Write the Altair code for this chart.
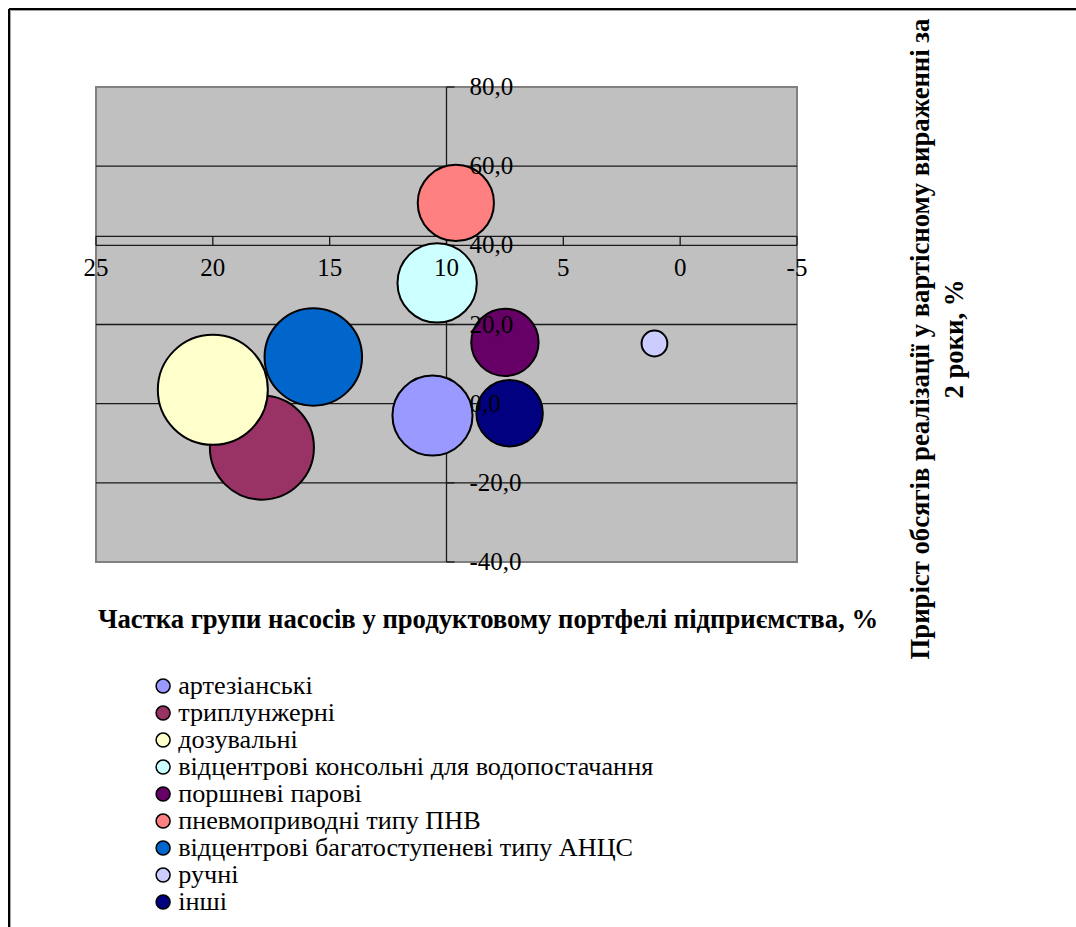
import altair as alt
import pandas as pd

# Pump groups: share in the product portfolio (%) vs. two-year sales growth (%)
names = [
    "артезіанські",
    "триплунжерні",
    "дозувальні",
    "відцентрові консольні для водопостачання",
    "поршневі парові",
    "пневмоприводні типу ПНВ",
    "відцентрові багатоступеневі типу АНЦС",
    "ручні",
    "інші",
]
share = [10.6, 17.9, 20.0, 10.4, 7.5, 9.6, 15.7, 1.1, 7.3]
growth = [-3.0, -11.1, 3.5, 30.5, 15.5, 50.7, 11.8, 15.2, -2.4]
colors = ["#9999FF", "#993366", "#FFFFCC", "#CCFFFF", "#660066",
          "#FF8080", "#0066CC", "#CCCCFF", "#000080"]

x_ticks = [25, 20, 15, 10, 5, 0, -5]
x_tick_labels = ["25", "20", "15", "10", "5", "0", "-5"]
y_ticks = [80, 60, 40, 20, 0, -20, -40]
y_tick_labels = ["80,0", "60,0", "40,0", "20,0", "0,0", "-20,0", "-40,0"]
y_grid = [60, 40, 20, 0, -20]

x_title = "Частка групи насосів у продуктовому портфелі підприємства, %"
y_title_lines = ["Приріст обсягів реалізації у вартісному вираженні за", "2 роки, %"]

FONT = "Liberation Serif"
W, H = 701, 475

df = pd.DataFrame({"name": names, "share": share, "growth": growth,
                   "idx": list(range(len(names)))})
xt = pd.DataFrame({"v": x_ticks, "label": x_tick_labels})
yt = pd.DataFrame({"v": y_ticks, "label": y_tick_labels})
yg = pd.DataFrame({"v": y_grid})

xs = alt.Scale(domain=[-5, 25], reverse=True, nice=False, zero=False)
ys = alt.Scale(domain=[-40, 80], nice=False, zero=False)

one = pd.DataFrame({"a": [0]})

# outer chart frame (top and left edges) with a thin grey inner shade
frame_top = alt.Chart(one).mark_rule(color="black", strokeWidth=2).encode(
    x=alt.value(-87), x2=alt.value(980), y=alt.value(-78))
frame_left = alt.Chart(one).mark_rule(color="black", strokeWidth=2).encode(
    x=alt.value(-87), y=alt.value(-78), y2=alt.value(840))
shade_top = alt.Chart(one).mark_rule(color="#a0a0a0", strokeWidth=1).encode(
    x=alt.value(-86), x2=alt.value(980), y=alt.value(-76.5))
shade_left = alt.Chart(one).mark_rule(color="#a0a0a0", strokeWidth=1).encode(
    x=alt.value(-85.5), y=alt.value(-77), y2=alt.value(840))

grid = alt.Chart(yg).mark_rule(color="#1a1a1a", strokeWidth=1.3).encode(
    y=alt.Y("v:Q", scale=ys, axis=None))

# horizontal axis crossing at y = 40
x_axis_line = alt.Chart(one).mark_rule(
    color="#1a1a1a", strokeWidth=1.3, yOffset=-9).encode(
    y=alt.YDatum(40, scale=ys, axis=None))
x_axis_ticks = alt.Chart(xt).mark_rule(color="#1a1a1a", strokeWidth=1.3, yOffset=-9, y2Offset=0).encode(
    x=alt.X("v:Q", scale=xs, axis=None),
    y=alt.YDatum(40, scale=ys, axis=None),
    y2=alt.Y2Datum(40))

# vertical axis crossing at x = 10
y_axis_line = alt.Chart(one).mark_rule(color="#1a1a1a", strokeWidth=1.3).encode(
    x=alt.XDatum(10, scale=xs, axis=None))
y_axis_ticks = alt.Chart(yt).mark_rule(color="#1a1a1a", strokeWidth=1.3, x2Offset=8).encode(
    y=alt.Y("v:Q", scale=ys, axis=None),
    x=alt.XDatum(10, scale=xs, axis=None),
    x2=alt.X2Datum(10))

bubbles = alt.Chart(df).mark_circle(opacity=1, stroke="black", strokeWidth=2).encode(
    x=alt.X("share:Q", scale=xs, axis=None),
    y=alt.Y("growth:Q", scale=ys, axis=None),
    size=alt.Size("share:Q", scale=alt.Scale(domain=[0, 20], range=[0, 12100]), legend=None),
    color=alt.Color(
        "name:N",
        scale=alt.Scale(domain=names, range=colors),
        sort=names,
        legend=alt.Legend(
            title=None, orient="none", legendX=54, legendY=586, padding=0,
            symbolType="circle", symbolSize=196, symbolStrokeColor="black",
            symbolStrokeWidth=1.5, symbolOpacity=1, labelFont=FONT,
            labelFontSize=26.2, labelColor="black", labelOffset=2,
            rowPadding=0, labelLimit=0,
        ),
    ),
    order=alt.Order("idx:Q"),
)

x_labels = alt.Chart(xt).mark_text(font=FONT, fontSize=25, color="black", dy=23,
                                   align="center", baseline="middle").encode(
    x=alt.X("v:Q", scale=xs, axis=None),
    y=alt.YDatum(40, scale=ys, axis=None),
    text="label:N")
y_labels = alt.Chart(yt).mark_text(font=FONT, fontSize=25, color="black", dx=23,
                                   align="left", baseline="middle").encode(
    x=alt.XDatum(10, scale=xs, axis=None),
    y=alt.Y("v:Q", scale=ys, axis=None),
    text="label:N")

title_x = alt.Chart(pd.DataFrame({"t": [x_title]})).mark_text(
    font=FONT, fontSize=26.7, fontWeight="bold", color="black",
    align="center", baseline="middle").encode(
    x=alt.value(392), y=alt.value(533), text="t:N")
title_y1 = alt.Chart(pd.DataFrame({"t": [y_title_lines[0]]})).mark_text(
    font=FONT, fontSize=26.7, fontWeight="bold", color="black", angle=270,
    align="center", baseline="middle").encode(
    x=alt.value(825), y=alt.value(252), text="t:N")
title_y2 = alt.Chart(pd.DataFrame({"t": [y_title_lines[1]]})).mark_text(
    font=FONT, fontSize=26.7, fontWeight="bold", color="black", angle=270,
    align="center", baseline="middle").encode(
    x=alt.value(859), y=alt.value(252), text="t:N")

chart = alt.layer(
    frame_top, frame_left, shade_top, shade_left, grid, x_axis_line, x_axis_ticks,
    y_axis_line, y_axis_ticks, bubbles, x_labels, y_labels, title_x, title_y1, title_y2,
).properties(
    width=W, height=H,
    padding={"left": 96, "top": 87, "right": 279, "bottom": 365},
    autosize=alt.AutoSizeParams(type="none"),
    background="white",
).configure_view(
    fill="#C0C0C0", stroke="#808080", strokeWidth=2,
)

chart.save("out.html", embed_options={"renderer": "svg", "actions": False})
